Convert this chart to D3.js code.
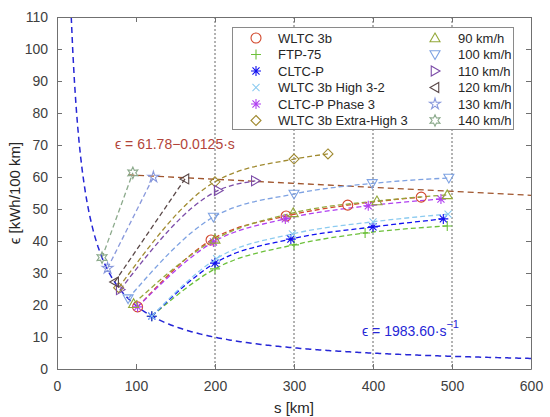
<!DOCTYPE html>
<html>
<head>
<meta charset="utf-8">
<script src="https://cdn.jsdelivr.net/npm/d3@7"></script>
<style>
  body { margin: 0; background: #fff; }
  text { font-family: Arial, "Liberation Sans", sans-serif; }
</style>
</head>
<body>
<div id="chart"></div>
<script>
// values: [s in km, consumption in kWh/100 km]
const wltc3b       = [[102, 19.4], [195, 40.3], [290, 47.8], [368, 51.2], [461, 53.7]];
const ftp75        = [[120, 16.5], [200, 31.3], [300, 38.8], [390, 42.5], [494, 44.7]];
const cltcP        = [[120, 16.5], [200, 33.1], [296, 40.6], [400, 44.4], [489, 46.9]];
const wltcHigh32   = [[120, 16.5], [202, 34.5], [298, 42.2], [400, 46.0], [495, 48.4]];
const cltcPhase3   = [[102, 19.4], [198, 39.7], [289, 46.9], [394, 51.0], [486, 53.1]];
const wltcExHigh3  = [[78, 25.4], [200, 58.5], [300, 65.6], [343, 67.2]];
const kmh90        = [[97, 20.4], [200, 40.5], [299, 48.8], [405, 52.5], [494, 54.4]];
const kmh100       = [[90, 22.0], [198, 47.5], [300, 54.7], [399, 58.0], [496, 59.7]];
const kmh110       = [[80, 24.8], [204, 55.8], [251, 58.8]];
const kmh120       = [[73, 27.2], [162, 59.4]];
const kmh130       = [[64, 31.5], [122, 60.0]];
const kmh140       = [[57, 34.8], [96, 61.3]];

const seriesNames = ["WLTC 3b", "FTP-75", "CLTC-P", "WLTC 3b High 3-2", "CLTC-P Phase 3", "WLTC 3b Extra-High 3",
  "90 km/h", "100 km/h", "110 km/h", "120 km/h", "130 km/h", "140 km/h"];
const seriesData = [wltc3b, ftp75, cltcP, wltcHigh32, cltcPhase3, wltcExHigh3,
  kmh90, kmh100, kmh110, kmh120, kmh130, kmh140];
const seriesMarkers = ["circle", "plus", "asterisk", "cross", "asterisk", "diamond",
  "triUp", "triDown", "triRight", "triLeft", "pentagram", "hexagram"];
const seriesColors = ["#d2482c", "#6cc03a", "#1010f0", "#8ccbf0", "#b040f0", "#a08a30",
  "#94a83a", "#7ea2e2", "#7c4ca8", "#5a4848", "#8898dc", "#8caa8c"];

// fitted curves
const hyperCoef = 1983.60;           // eps = 1983.60 / s
const linFit = [61.78, -0.0125];     // eps = 61.78 - 0.0125 s
const linFitRange = [90, 600];

const xTicks = [0, 100, 200, 300, 400, 500, 600];
const yTicks = [0, 10, 20, 30, 40, 50, 60, 70, 80, 90, 100, 110];
const gridX = [200, 300, 400, 500];

const W = 550, H = 417;
const margin = { top: 17, right: 19, bottom: 48, left: 57 };
const width = W - margin.left - margin.right;
const height = H - margin.top - margin.bottom;

const svg = d3.select("#chart").append("svg")
  .attr("width", W).attr("height", H);

const g = svg.append("g")
  .attr("transform", `translate(${margin.left}, ${margin.top})`);

const x = d3.scaleLinear().domain([0, 600]).range([0, width]);
const y = d3.scaleLinear().domain([0, 110]).range([height, 0]);

// dotted grid lines
g.selectAll(".grid").data(gridX).enter().append("line")
  .attr("x1", d => x(d)).attr("x2", d => x(d))
  .attr("y1", 0).attr("y2", height)
  .style("stroke", "#666").style("stroke-width", 1)
  .style("stroke-dasharray", "2,2");

// marker shapes
function markerPath(type, r) {
  const k = r * 0.707;
  switch (type) {
    case "circle": return `M${r},0A${r},${r} 0 1,1 ${-r},0A${r},${r} 0 1,1 ${r},0Z`;
    case "plus": return `M${-r},0H${r}M0,${-r}V${r}`;
    case "cross": return `M${-k},${-k}L${k},${k}M${-k},${k}L${k},${-k}`;
    case "asterisk": return `M${-r},0H${r}M0,${-r}V${r}M${-k},${-k}L${k},${k}M${-k},${k}L${k},${-k}`;
    case "diamond": return `M0,${-r}L${r},0L0,${r}L${-r},0Z`;
    case "triUp": return `M0,${-r}L${r},${r * 0.75}L${-r},${r * 0.75}Z`;
    case "triDown": return `M0,${r}L${r},${-r * 0.75}L${-r},${-r * 0.75}Z`;
    case "triRight": return `M${r},0L${-r * 0.75},${r}L${-r * 0.75},${-r}Z`;
    case "triLeft": return `M${-r},0L${r * 0.75},${r}L${r * 0.75},${-r}Z`;
    case "pentagram":
    case "hexagram": {
      const n = type === "pentagram" ? 5 : 6;
      const inner = type === "pentagram" ? r * 0.42 : r * 0.58;
      const pts = [];
      for (let i = 0; i < 2 * n; i++) {
        const a = -Math.PI / 2 + i * Math.PI / n;
        const rr = i % 2 === 0 ? r * 1.15 : inner;
        pts.push([rr * Math.cos(a), rr * Math.sin(a)]);
      }
      return "M" + pts.map(p => p.join(",")).join("L") + "Z";
    }
  }
}

// hyperbola eps = c / s
const sStart = hyperCoef / 110;
const hyperPts = d3.range(sStart, 600.01, 2).map(s => [s, hyperCoef / s]);
hyperPts.push([600, hyperCoef / 600]);
const lineGen = d3.line().x(d => x(d[0])).y(d => y(d[1]));

g.append("path").datum(hyperPts)
  .attr("d", lineGen)
  .style("fill", "none").style("stroke", "#2626d6")
  .style("stroke-width", 1.5).style("stroke-dasharray", "6,4");

// linear fit
g.append("path").datum(linFitRange.map(s => [s, linFit[0] + linFit[1] * s]))
  .attr("d", lineGen)
  .style("fill", "none").style("stroke", "#a0552d")
  .style("stroke-width", 1.3).style("stroke-dasharray", "6,4");

// series lines
const curveGen = d3.line().x(d => x(d[0])).y(d => y(d[1])).curve(d3.curveMonotoneX);
seriesData.forEach((pts, i) => {
  g.append("path").datum(pts)
    .attr("d", curveGen)
    .style("fill", "none").style("stroke", seriesColors[i])
    .style("stroke-width", 1.3).style("stroke-dasharray", "5,3");
});

// series markers
seriesData.forEach((pts, i) => {
  g.selectAll(".m" + i).data(pts).enter().append("path")
    .attr("class", "m" + i)
    .attr("transform", d => `translate(${x(d[0])}, ${y(d[1])})`)
    .attr("d", markerPath(seriesMarkers[i], 5))
    .style("fill", "none").style("stroke", seriesColors[i]).style("stroke-width", 1.1);
});

// axes (box with inward ticks)
const axisColor = "#707070";
const styleAxis = sel => {
  sel.select(".domain").style("stroke", axisColor);
  sel.selectAll(".tick line").style("stroke", axisColor);
  sel.selectAll(".tick text").style("fill", "#404040").style("font-size", "14px");
};
g.append("g").attr("transform", `translate(0, ${height})`)
  .call(d3.axisBottom(x).tickValues(xTicks).tickSizeInner(-5).tickSizeOuter(0).tickPadding(12))
  .call(styleAxis);
g.append("g")
  .call(d3.axisLeft(y).tickValues(yTicks).tickSizeInner(-5).tickSizeOuter(0).tickPadding(9))
  .call(styleAxis);
g.append("g")
  .call(d3.axisTop(x).tickValues(xTicks).tickSizeInner(-5).tickSizeOuter(0).tickFormat(""))
  .call(styleAxis);
g.append("g").attr("transform", `translate(${width}, 0)`)
  .call(d3.axisRight(y).tickValues(yTicks).tickSizeInner(-5).tickSizeOuter(0).tickFormat(""))
  .call(styleAxis);

// axis titles
svg.append("text")
  .attr("x", margin.left + width / 2).attr("y", 413)
  .attr("text-anchor", "middle").style("font-size", "15px").style("fill", "#262626")
  .text("s [km]");
svg.append("text")
  .attr("transform", `translate(20, ${margin.top + height / 2}) rotate(-90)`)
  .attr("text-anchor", "middle").style("font-size", "15px").style("fill", "#262626")
  .text("ϵ [kWh/100 km]");

// fit annotations
svg.append("text")
  .attr("x", 115).attr("y", 149)
  .style("font-size", "14px").style("fill", "#b2443a")
  .text("ϵ = 61.78−0.0125·s");
const hyperLabel = svg.append("text")
  .attr("x", 362).attr("y", 336)
  .style("font-size", "14px").style("fill", "#2626d6");
hyperLabel.append("tspan").text("ϵ = 1983.60·s");
hyperLabel.append("tspan").attr("dy", -8).style("font-size", "11px").text("−1");

// legend
const legend = svg.append("g");
legend.append("rect")
  .attr("x", 232.5).attr("y", 27.5).attr("width", 281).attr("height", 102)
  .style("fill", "#fff").style("stroke", "#8a8a8a").style("stroke-width", 1);
const colMarkX = [256, 435], colTextX = [278, 458];
const rowY = [38, 54.5, 71, 87.5, 104, 120.5];
seriesNames.forEach((name, i) => {
  const c = Math.floor(i / 6), r = i % 6;
  legend.append("path")
    .attr("transform", `translate(${colMarkX[c]}, ${rowY[r]})`)
    .attr("d", markerPath(seriesMarkers[i], 5))
    .style("fill", "none").style("stroke", seriesColors[i]).style("stroke-width", 1.1);
  legend.append("text")
    .attr("x", colTextX[c]).attr("y", rowY[r]).attr("dy", "0.35em")
    .style("font-size", "13px").style("fill", "#262626")
    .text(name);
});
</script>
</body>
</html>
